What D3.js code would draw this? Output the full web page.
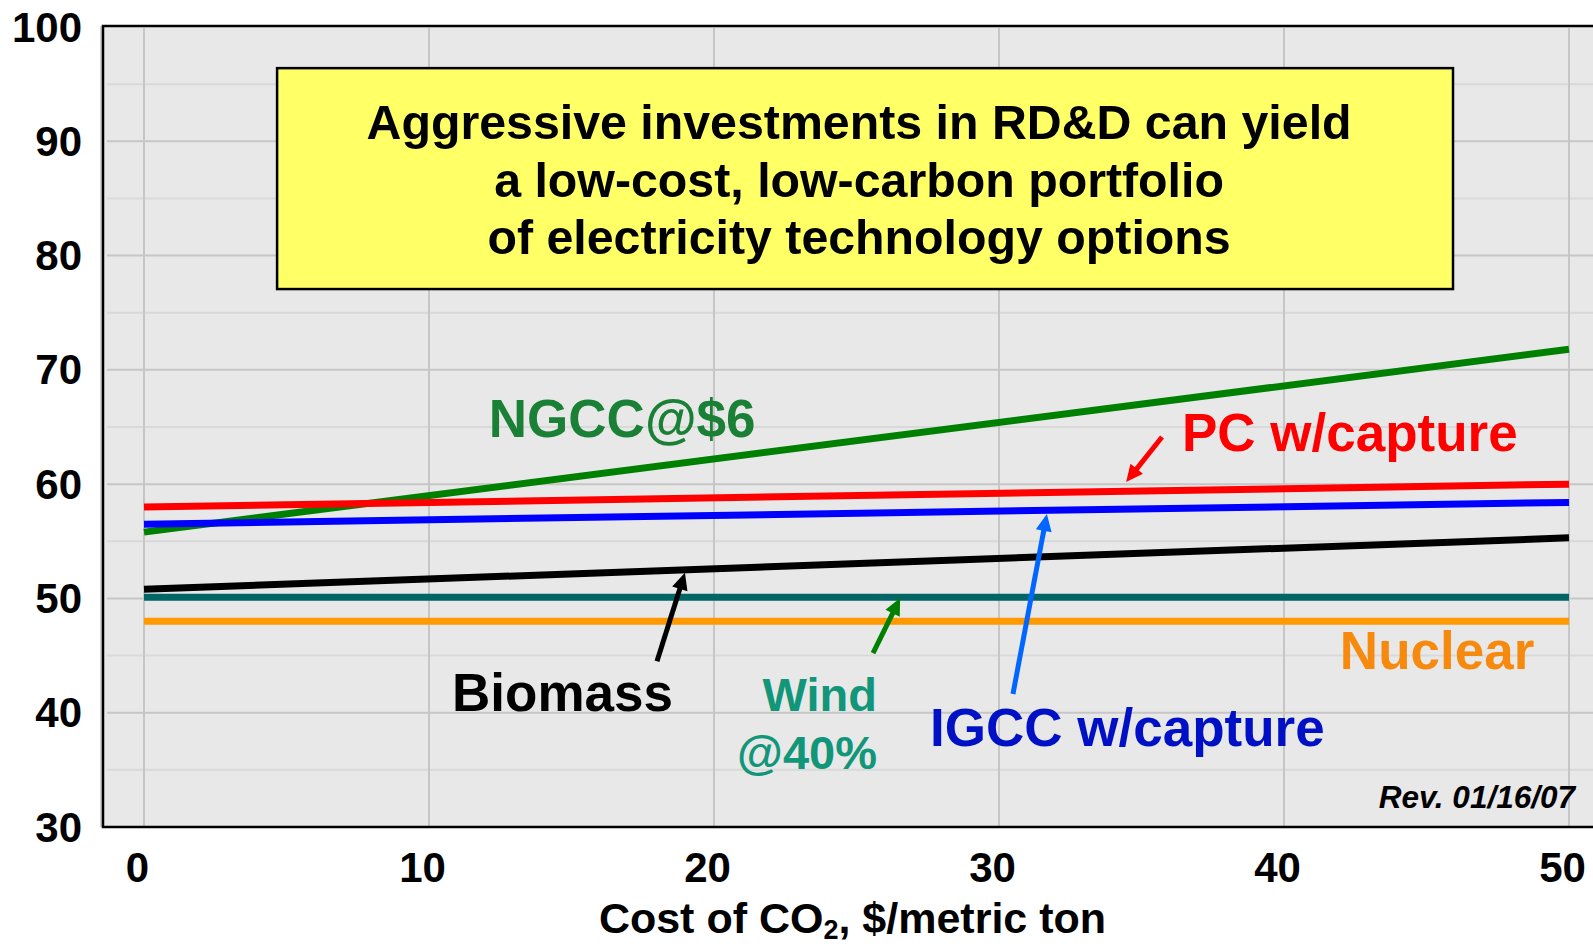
<!DOCTYPE html>
<html>
<head>
<meta charset="utf-8">
<script src="https://cdn.jsdelivr.net/npm/d3@7"></script>
<style>
  html, body { margin: 0; padding: 0; background: #ffffff; }
  svg { display: block; font-family: "Liberation Sans", Arial, Helvetica, sans-serif; }
</style>
</head>
<body>
<svg id="chart" width="1593" height="944"></svg>
<script>
// CO2 price, $/metric ton (x) and levelized cost of electricity (y)
const costs = [0, 50];
const xTicks = [0, 10, 20, 30, 40, 50];
const yTicks = [30, 40, 50, 60, 70, 80, 90, 100];
const yMinorTicks = [35, 45, 55, 65, 75, 85, 95];

// Series values at each CO2 price
const ngcc = [55.8, 71.8];
const pcCapture = [58.0, 60.0];
const igccCapture = [56.5, 58.4];
const biomass = [50.8, 55.3];
const wind = [50.1, 50.1];
const nuclear = [48.0, 48.0];

const seriesNames = ["NGCC@$6", "PC w/capture", "IGCC w/capture", "Biomass", "Wind @40%", "Nuclear"];
const seriesValues = [ngcc, pcCapture, igccCapture, biomass, wind, nuclear];
const seriesColors = ["#008000", "#ff0000", "#0000ff", "#000000", "#006666", "#ff9900"];

// Callout text
const boxLines = [
  "Aggressive investments in RD&D can yield",
  "a low-cost, low-carbon portfolio",
  "of electricity technology options"
];
const revision = "Rev. 01/16/07";

const svg = d3.select("#chart");

const frame = { left: 103, top: 26, bottom: 827, right: 1620 };
const x = d3.scaleLinear().domain([0, 50]).range([144, 1569]);
const y = d3.scaleLinear().domain([30, 100]).range([827, 27]);

// Plot background and soft shadow on the left edge
svg.append("rect")
  .attr("x", frame.left - 3).attr("y", frame.top)
  .attr("width", 3).attr("height", frame.bottom - frame.top)
  .attr("fill", "#d0d0d0");
svg.append("rect")
  .attr("x", frame.left).attr("y", frame.top)
  .attr("width", frame.right - frame.left).attr("height", frame.bottom - frame.top)
  .attr("fill", "#e8e8e8");

// Gridlines
const grid = svg.append("g");
grid.selectAll("line.minor").data(yMinorTicks).join("line")
  .attr("class", "minor")
  .attr("x1", frame.left + 4).attr("x2", frame.right)
  .attr("y1", d => y(d)).attr("y2", d => y(d))
  .attr("stroke", "#d9d9d9").attr("stroke-width", 2);
grid.selectAll("line.major").data(yTicks.filter(d => d > 30 && d < 100)).join("line")
  .attr("class", "major")
  .attr("x1", frame.left + 4).attr("x2", frame.right)
  .attr("y1", d => y(d)).attr("y2", d => y(d))
  .attr("stroke", "#c6c6c6").attr("stroke-width", 2);
grid.selectAll("line.vert").data(xTicks).join("line")
  .attr("class", "vert")
  .attr("x1", d => x(d)).attr("x2", d => x(d))
  .attr("y1", frame.top + 2).attr("y2", frame.bottom)
  .attr("stroke", "#c6c6c6").attr("stroke-width", 2);

// Frame (open on the right)
svg.append("path")
  .attr("d", `M${frame.right},${frame.top}H${frame.left}V${frame.bottom}H${frame.right}`)
  .attr("fill", "none").attr("stroke", "#000").attr("stroke-width", 2.5);

// Callout box
const boxX0 = x(4.67), boxX1 = x(45.93), boxY0 = y(96.4), boxY1 = y(77.07);
svg.append("rect")
  .attr("x", boxX0).attr("y", boxY0)
  .attr("width", boxX1 - boxX0).attr("height", boxY1 - boxY0)
  .attr("fill", "#ffff66").attr("stroke", "#000").attr("stroke-width", 2.5);
svg.append("g").selectAll("text").data(boxLines).join("text")
  .attr("x", (boxX0 + boxX1) / 2 - 6)
  .attr("y", (d, i) => boxY0 + 71 + i * 57.5)
  .attr("text-anchor", "middle")
  .attr("font-size", 48.3).attr("font-weight", "bold").attr("fill", "#000")
  .text(d => d);

// Series lines
const line = d3.line().x((d, i) => x(costs[i])).y(d => y(d));
svg.append("g").selectAll("path").data(seriesValues).join("path")
  .attr("d", d => line(d))
  .attr("fill", "none")
  .attr("stroke", (d, i) => seriesColors[i])
  .attr("stroke-width", 7)
  .attr("stroke-linecap", "butt");

// Arrows from labels to lines: tail and tip in data units
const arrows = [
  { from: [18.0, 44.5], to: [18.98, 52.25], color: "#000000" },
  { from: [25.58, 45.22], to: [26.53, 50.03], color: "#008000" },
  { from: [30.49, 41.64], to: [31.68, 57.38], color: "#0066ff" },
  { from: [35.72, 64.12], to: [34.46, 60.18], color: "#ff0000" }
];
const arrowG = svg.append("g");
arrows.forEach(a => {
  const x0 = x(a.from[0]), y0 = y(a.from[1]);
  const x1 = x(a.to[0]), y1 = y(a.to[1]);
  const len = Math.hypot(x1 - x0, y1 - y0);
  const ux = (x1 - x0) / len, uy = (y1 - y0) / len;
  const headL = 17, headW = 8;
  const bx = x1 - ux * headL, by = y1 - uy * headL;
  arrowG.append("line")
    .attr("x1", x0).attr("y1", y0)
    .attr("x2", bx + ux * 2).attr("y2", by + uy * 2)
    .attr("stroke", a.color).attr("stroke-width", 5);
  arrowG.append("path")
    .attr("d", `M${x1},${y1}L${bx - uy * headW},${by + ux * headW}L${bx + uy * headW},${by - ux * headW}Z`)
    .attr("fill", a.color);
});

// Series labels
const labels = [
  { text: "NGCC@$6", at: [12.1, 64.12], anchor: "start", color: "#1a8036", size: 53 },
  { text: "PC w/capture", at: [36.42, 62.9], anchor: "start", color: "#ff0000", size: 53 },
  { text: "Biomass", at: [10.81, 40.15], anchor: "start", color: "#000000", size: 53 },
  { text: "Wind", at: [25.72, 40.15], anchor: "end", color: "#12967a", size: 47 },
  { text: "@40%", at: [25.72, 35.07], anchor: "end", color: "#12967a", size: 47 },
  { text: "IGCC w/capture", at: [27.58, 37.09], anchor: "start", color: "#0010c4", size: 53 },
  { text: "Nuclear", at: [41.96, 43.82], anchor: "start", color: "#f68a0e", size: 53 }
];
svg.append("g").selectAll("text").data(labels).join("text")
  .attr("x", d => x(d.at[0])).attr("y", d => y(d.at[1]))
  .attr("text-anchor", d => d.anchor)
  .attr("font-size", d => d.size).attr("font-weight", "bold")
  .attr("fill", d => d.color)
  .text(d => d.text);

svg.append("text")
  .attr("x", x(50.21)).attr("y", y(31.66))
  .attr("text-anchor", "end")
  .attr("font-size", 31.5).attr("font-weight", "bold").attr("font-style", "italic")
  .attr("fill", "#000")
  .text(revision);

// Axes
const xAxis = svg.append("g")
  .attr("transform", `translate(0,${frame.bottom})`)
  .call(d3.axisBottom(x).tickValues(xTicks).tickSize(0).tickPadding(25).tickFormat(d3.format("d")));
xAxis.select(".domain").remove();
xAxis.selectAll("text")
  .attr("dx", -7)
  .attr("font-family", "'Liberation Sans', Arial, sans-serif")
  .attr("font-size", 42).attr("font-weight", "bold").attr("fill", "#000");

const yAxis = svg.append("g")
  .attr("transform", `translate(${frame.left},0)`)
  .call(d3.axisLeft(y).tickValues(yTicks).tickSize(0).tickPadding(21).tickFormat(d3.format("d")));
yAxis.select(".domain").remove();
yAxis.selectAll("text")
  .attr("dy", 14)
  .attr("font-family", "'Liberation Sans', Arial, sans-serif")
  .attr("font-size", 42).attr("font-weight", "bold").attr("fill", "#000");

// X-axis title with subscript
const title = svg.append("text")
  .attr("x", (x(0) + x(50)) / 2 - 4).attr("y", 933)
  .attr("text-anchor", "middle")
  .attr("font-size", 43).attr("font-weight", "bold").attr("fill", "#000");
title.append("tspan").text("Cost of CO");
title.append("tspan").attr("font-size", 27).attr("dy", 6).text("2");
title.append("tspan").attr("dy", -6).text(", $/metric ton");
</script>
</body>
</html>
